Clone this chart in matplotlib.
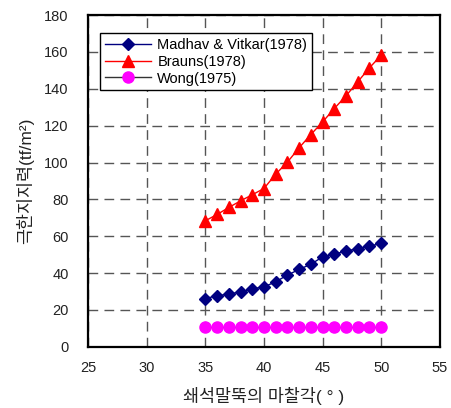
import numpy as np
import matplotlib
matplotlib.use('Agg')
import matplotlib.pyplot as plt

plt.rcParams['font.family'] = ['Liberation Sans', 'Noto Sans CJK KR', 'DejaVu Sans']

# friction angle of stone column (deg)
angle = [35, 36, 37, 38, 39, 40, 41, 42, 43, 44, 45, 46, 47, 48, 49, 50]
madhav = [26.2, 27.7, 28.6, 29.8, 31.5, 32.5, 35.3, 38.9, 42.0, 44.8, 48.8, 50.3, 51.9, 53.3, 54.6, 56.1]
brauns = [68.4, 71.8, 75.6, 79.2, 82.5, 85.9, 93.7, 100.2, 108.0, 115.2, 122.0, 129.3, 136.2, 143.8, 151.4, 158.2]
wong = [10.5] * 16

labels = ['Madhav & Vitkar(1978)', 'Brauns(1978)', 'Wong(1975)']

fig = plt.figure(figsize=(4.52, 4.08), dpi=100)
ax = fig.add_axes([0.195, 0.15, 0.778, 0.813])

ax.plot(angle, madhav, color='#000080', marker='D', markersize=6, lw=1, label=labels[0])
ax.plot(angle, brauns, color='#ff0000', marker='^', markersize=8, lw=1, label=labels[1])
ax.plot(angle, wong, color='#333333', marker='o', markersize=8, lw=1,
        markerfacecolor='#ff00ff', markeredgecolor='#ff00ff', label=labels[2])

ax.set_xlim(25, 55)
ax.set_ylim(0, 180)
ax.set_xticks(np.arange(25, 56, 5))
ax.set_yticks(np.arange(0, 181, 20))
ax.grid(True, color='#555555', linestyle=(0, (7, 4.5)), lw=1)
ax.tick_params(direction='in', length=0, labelsize=10.5, labelcolor='#222222')
ax.tick_params(axis='y', pad=14)
ax.tick_params(axis='x', pad=10)
for s in ax.spines.values():
    s.set_linewidth(1.6)

ax.set_xlabel('쇄석말뚝의 마찰각( ° )', fontsize=12.5, labelpad=9, color='#222222')
ax.set_ylabel('극한지지력(tf/m²)', fontsize=12.5, labelpad=7, color='#222222')

leg = ax.legend(loc='upper left', bbox_to_anchor=(0.035, 0.945), borderaxespad=0,
                fontsize=10.5, fancybox=False, framealpha=1, edgecolor='black',
                handlelength=3.2, borderpad=0.3, labelspacing=0.2, handletextpad=0.4)
leg.get_frame().set_linewidth(1)

fig.savefig('out.png', dpi=100)
